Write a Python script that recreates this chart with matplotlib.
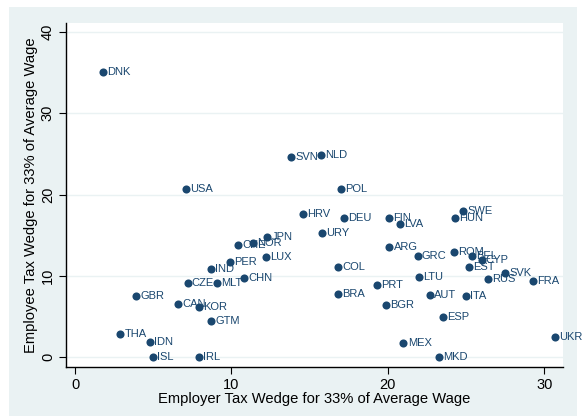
import matplotlib
matplotlib.use('Agg')
import matplotlib.pyplot as plt
from matplotlib.patches import Rectangle

plt.rcParams['font.family'] = ['Liberation Sans', 'DejaVu Sans']

# country codes and tax wedges (employer on x, employee on y)
countries = ['DNK', 'USA', 'SVN', 'NLD', 'POL', 'HRV', 'DEU', 'FIN', 'LVA', 'URY',
             'ARG', 'GRC', 'COL', 'LTU', 'PRT', 'BRA', 'AUT', 'SWE', 'HUN', 'ROM',
             'BEL', 'CYP', 'EST', 'SVK', 'RUS', 'FRA', 'ITA', 'JPN', 'NOR', 'CHE',
             'LUX', 'PER', 'IND', 'CHN', 'CZE', 'MLT', 'CAN', 'KOR', 'GBR', 'GTM',
             'THA', 'IDN', 'ISL', 'IRL', 'BGR', 'ESP', 'MEX', 'MKD', 'UKR']
employer = [1.8, 7.1, 13.8, 15.7, 17.0, 14.6, 17.2, 20.1, 20.8, 15.8,
            20.1, 21.9, 16.8, 22.0, 19.3, 16.8, 22.7, 24.8, 24.3, 24.2,
            25.4, 26.0, 25.2, 27.5, 26.4, 29.3, 25.0, 12.3, 11.4, 10.4,
            12.2, 9.9, 8.7, 10.8, 7.2, 9.1, 6.6, 7.9, 3.9, 8.7,
            2.9, 4.8, 5.0, 7.9, 19.9, 23.5, 21.0, 23.3, 30.7]
employee = [35.1, 20.7, 24.6, 24.9, 20.7, 17.6, 17.1, 17.1, 16.4, 15.3,
            13.6, 12.4, 11.1, 9.9, 8.9, 7.8, 7.7, 18.0, 17.1, 12.9,
            12.5, 11.9, 11.1, 10.4, 9.6, 9.4, 7.5, 14.8, 14.1, 13.8,
            12.3, 11.7, 10.9, 9.8, 9.1, 9.1, 6.5, 6.2, 7.5, 4.4,
            2.9, 1.9, 0.0, 0.0, 6.4, 4.9, 1.7, 0.0, 2.5]

navy = '#1A476F'
outer = '#EAF2F3'

fig = plt.figure(figsize=(5.84, 4.19), dpi=100)
fig.patch.set_facecolor('white')
fig.patches.append(Rectangle((9 / 584, 1 - 416 / 419), 568 / 584, 409 / 419,
                             transform=fig.transFigure, facecolor=outer,
                             edgecolor='none', zorder=0))

ax = fig.add_axes([66 / 584, 1 - 366.7 / 419, 497 / 584, 343.7 / 419])
ax.set_facecolor('white')
ax.set_zorder(1)

ax.scatter(employer, employee, s=34, color=navy, zorder=3, linewidths=0)
for name, x, y in zip(countries, employer, employee):
    ax.annotate(name, (x, y), xytext=(3.0, 0), textcoords='offset points',
                va='center', ha='left', fontsize=8, color=navy, zorder=4)

ax.set_xlim(-0.58, 31.2)
ax.set_ylim(-1.16, 41.1)
ax.set_xticks([0, 10, 20, 30])
ax.set_yticks([0, 10, 20, 30, 40])
ax.set_yticklabels(['0', '10', '20', '30', '40'], rotation=90, va='center')
for t in [0, 10, 20, 30, 40]:
    ax.axhline(t, color=outer, linewidth=1.0, zorder=1)

ax.tick_params(direction='out', length=5, width=0.8, labelsize=10.5, colors='black', pad=3)
for side in ['top', 'right']:
    ax.spines[side].set_visible(False)
for side in ['left', 'bottom']:
    ax.spines[side].set_linewidth(1.0)
    ax.spines[side].set_color('black')

ax.set_xlabel('Employer Tax Wedge for 33% of Average Wage', fontsize=10.6, labelpad=0)
ax.set_ylabel('Employee Tax Wedge for 33% of Average Wage', fontsize=10.6, labelpad=2)

fig.savefig('out.png', dpi=100, facecolor='white')
